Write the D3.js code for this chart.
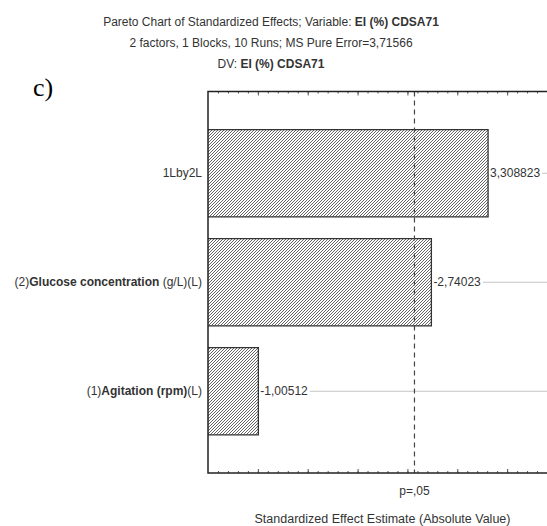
<!DOCTYPE html>
<html>
<head>
<meta charset="utf-8">
<script src="https://cdn.jsdelivr.net/npm/d3@7"></script>
<style>
  body { margin: 0; background: #fff; }
  svg { display: block; font-family: 'Liberation Sans', Arial, sans-serif; }
</style>
</head>
<body>
<div class="chart"></div>
<script>
'use strict';

// effects, in pareto order (top to bottom)
const factors = ['1Lby2L', '(2)Glucose concentration (g/L)(L)', '(1)Agitation (rpm)(L)'];
const boldParts = ['', 'Glucose concentration', 'Agitation (rpm)'];
const effects = [3.308823, -2.74023, -1.00512];
const effectLabels = ['3,308823', '-2,74023', '-1,00512'];

const pCritical = 2.5706;
const pLabel = 'p=,05';
const xDomain = [0.5, 4.0];

const titleLines = [
  ['Pareto Chart of Standardized Effects; Variable: ', 'EI (%) CDSA71'],
  ['2 factors, 1 Blocks, 10 Runs; MS Pure Error=3,71566', ''],
  ['DV: ', 'EI (%) CDSA71']
];
const xTitle = 'Standardized Effect Estimate (Absolute Value)';
const panelLabel = 'c)';

const FULL_WIDTH = 547;
const FULL_HEIGHT = 526;
const FONT = 12;

const margin = {
  top: 91.5,
  left: 208,
  right: 557,
  bottom: 473
};

const svg = d3.select('.chart')
  .append('svg')
    .attr('width', FULL_WIDTH)
    .attr('height', FULL_HEIGHT);

// hatch fill for the bars
svg.append('defs')
  .append('pattern')
    .attr('id', 'hatch')
    .attr('patternUnits', 'userSpaceOnUse')
    .attr('width', 3)
    .attr('height', 3)
  .append('path')
    .attr('d', 'M-1,1 l2,-2 M0,3 l3,-3 M2,4 l2,-2')
    .attr('stroke', '#666')
    .attr('stroke-width', 1);

const x = d3.scaleLinear()
  .domain(xDomain)
  .range([margin.left, margin.right]);

const y = d3.scaleBand()
  .domain(factors)
  .range([margin.top, margin.bottom])
  .paddingInner(0.2)
  .paddingOuter(0.35);

// titles
titleLines.forEach((line, i) => {
  const t = svg.append('text')
    .attr('x', 271)
    .attr('y', 26 + i * 21)
    .attr('text-anchor', 'middle')
    .attr('font-size', FONT)
    .attr('fill', '#333');
  t.append('tspan').text(line[0]);
  if (line[1]) t.append('tspan').attr('font-weight', 'bold').text(line[1]);
});

svg.append('text')
  .attr('x', 33)
  .attr('y', 96)
  .attr('font-family', "'Liberation Serif', 'Times New Roman', serif")
  .attr('font-size', 26)
  .attr('fill', '#000')
  .text(panelLabel);

const rows = factors.map((f, i) => ({name: f, bold: boldParts[i], value: effects[i], label: effectLabels[i]}));

// bars
svg.selectAll('.bar')
  .data(rows)
  .enter()
  .append('rect')
    .attr('class', 'bar')
    .attr('x', x(xDomain[0]))
    .attr('y', (d) => y(d.name))
    .attr('width', (d) => x(Math.abs(d.value)) - x(xDomain[0]))
    .attr('height', y.bandwidth())
    .attr('fill', 'url(#hatch)');

svg.selectAll('.bar-edge')
  .data(rows)
  .enter()
  .append('path')
    .attr('class', 'bar-edge')
    .attr('d', (d) => {
      const x0 = x(xDomain[0]);
      const x1 = x(Math.abs(d.value));
      const y0 = y(d.name);
      const y1 = y0 + y.bandwidth();
      return `M${x0},${y0}H${x1}V${y1}H${x0}`;
    })
    .attr('fill', 'none')
    .attr('stroke', '#333')
    .attr('stroke-width', 1.3);

// value labels + light guide lines
svg.selectAll('.value-label')
  .data(rows)
  .enter()
  .append('text')
    .attr('class', 'value-label')
    .attr('x', (d) => x(Math.abs(d.value)) + 2)
    .attr('y', (d) => y(d.name) + y.bandwidth() / 2)
    .attr('dy', '0.35em')
    .attr('font-size', FONT)
    .attr('fill', '#333')
    .text((d) => d.label)
    .each(function(d) {
      const end = x(Math.abs(d.value)) + 2 + this.getComputedTextLength() + 2;
      svg.append('line')
        .attr('x1', end)
        .attr('x2', FULL_WIDTH)
        .attr('y1', y(d.name) + y.bandwidth() / 2)
        .attr('y2', y(d.name) + y.bandwidth() / 2)
        .attr('stroke', '#c4c4c4')
        .attr('stroke-width', 1);
    });

// category labels
svg.selectAll('.cat-label')
  .data(rows)
  .enter()
  .append('text')
    .attr('class', 'cat-label')
    .attr('x', margin.left - 6)
    .attr('y', (d) => y(d.name) + y.bandwidth() / 2)
    .attr('dy', '0.35em')
    .attr('text-anchor', 'end')
    .attr('font-size', FONT)
    .attr('fill', '#333')
    .each(function(d) {
      const t = d3.select(this);
      if (!d.bold) {
        t.text(d.name);
        return;
      }
      const i = d.name.indexOf(d.bold);
      t.append('tspan').text(d.name.slice(0, i));
      t.append('tspan').attr('font-weight', 'bold').text(d.bold);
      t.append('tspan').text(d.name.slice(i + d.bold.length));
    });

// significance line
svg.append('line')
  .attr('x1', x(pCritical))
  .attr('x2', x(pCritical))
  .attr('y1', margin.top)
  .attr('y2', margin.bottom)
  .attr('stroke', '#444')
  .attr('stroke-width', 1.2)
  .attr('stroke-dasharray', '5,4');

// axes: ticks only, pointing inward
const minorTicks = d3.range(0.6, 4.0, 0.1);
const majorTicks = d3.range(1.0, 4.0, 0.5);

function drawAxis(axisFn, yPos) {
  svg.append('g')
      .attr('transform', 'translate(0,' + yPos + ')')
      .call(axisFn(x).tickValues(minorTicks).tickSize(-2).tickFormat(''))
      .call((g) => g.select('.domain').remove())
      .call((g) => g.selectAll('line').attr('stroke', '#555'));
  svg.append('g')
      .attr('transform', 'translate(0,' + yPos + ')')
      .call(axisFn(x).tickValues(majorTicks).tickSize(-4).tickFormat(''))
      .call((g) => g.select('.domain').remove())
      .call((g) => g.selectAll('line').attr('stroke', '#555'));
}
drawAxis(d3.axisBottom, margin.bottom);
drawAxis(d3.axisTop, margin.top);

// frame
svg.append('path')
  .attr('d', `M${FULL_WIDTH},${margin.top}H${margin.left}V${margin.bottom}H${FULL_WIDTH}`)
  .attr('fill', 'none')
  .attr('stroke', '#222')
  .attr('stroke-width', 1.5);

svg.append('text')
  .attr('x', x(pCritical))
  .attr('y', 495)
  .attr('text-anchor', 'middle')
  .attr('font-size', FONT)
  .attr('fill', '#333')
  .text(pLabel);

svg.append('text')
  .attr('x', (margin.left + margin.right) / 2)
  .attr('y', 523)
  .attr('text-anchor', 'middle')
  .attr('font-size', 12.5)
  .attr('fill', '#333')
  .text(xTitle);
</script>
</body>
</html>
